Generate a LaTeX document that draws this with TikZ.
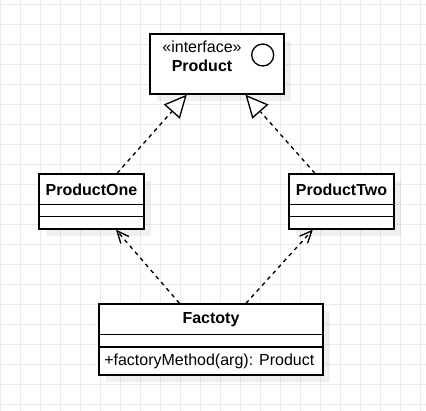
\documentclass[tikz,border=0pt]{standalone}
\usepackage{fontspec}
\setmainfont{Liberation Sans}
\usetikzlibrary{calc,arrows.meta,shadows,positioning}
\definecolor{gridgray}{HTML}{EBEBEB}
\tikzset{
  gridline/.style={draw=gridgray, line width=0.75pt},
  classbox/.style 2 args={draw=black, line width=1pt, fill=white, inner sep=0pt,
    minimum width=#1*0.75pt, minimum height=#2*0.75pt,
    drop shadow={shadow xshift=5.25pt, shadow yshift=-5.25pt, fill=black, opacity=0.06}},
  classname/.style={font=\fontsize{12}{14}\selectfont\bfseries, inner sep=0pt},
  classtext/.style={font=\fontsize{12}{14}\selectfont, inner sep=0pt},
  divider/.style={draw=black, line width=1pt},
  realize/.style={draw=black, line width=1pt, dash pattern=on 3pt off 3pt,
    -{Triangle[fill=white, length=17pt, width=16pt]}},
  depend/.style={draw=black, line width=1pt, dash pattern=on 3pt off 3pt,
    -{Straight Barb[length=9pt, width=8pt]}},
}
\begin{document}
\begin{tikzpicture}[x=0.75pt, y=-0.75pt]
		\useasboundingbox (0,0) rectangle (426,411);
		\fill[white] (0,0) rectangle (426,411);
		%%%%% GRID %%%%%
		\foreach \gx in {0,...,21}
			\draw[gridline] (0.5+20*\gx, 0) -- (0.5+20*\gx, 411);
		\foreach \gy in {0,...,20}
			\draw[gridline] (0, 4.3+20*\gy) -- (426, 4.3+20*\gy);
		
		%%%%% CLASSES %%%%%
		\node[classbox={134}{60}] (prod) at (217, 64) {};
		\node[classtext] (prodstereo) at (202, 46.7) {«interface»};
		\node[classname] (prodname) at (202, 65.7) {Product};
		\draw[line width=1pt] (262.7, 55) circle (8.25pt);
		
		\node[classbox={105}{55}] (prodone) at (91.5, 201.5) {};
		\node[classname] (prodonename) at (91.5, 189.5) {ProductOne};
		\draw[divider] ($(prodone.north west)+(0,31)$) -- ($(prodone.north east)+(0,31)$);
		\draw[divider] ($(prodone.north west)+(0,43)$) -- ($(prodone.north east)+(0,43)$);
		
		\node[classbox={105}{55}] (prodtwo) at (341.5, 201.5) {};
		\node[classname] (prodtwoname) at (341.5, 189.5) {ProductTwo};
		\draw[divider] ($(prodtwo.north west)+(0,31)$) -- ($(prodtwo.north east)+(0,31)$);
		\draw[divider] ($(prodtwo.north west)+(0,43)$) -- ($(prodtwo.north east)+(0,43)$);
		
		\node[classbox={224}{71}] (factory) at (211, 339.5) {};
		\node[classname] (factoryname) at (211, 319.5) {Factoty};
		\draw[divider] ($(factory.north west)+(0,31)$) -- ($(factory.north east)+(0,31)$);
		\draw[divider] ($(factory.north west)+(0,43.5)$) -- ($(factory.north east)+(0,43.5)$);
		\node[classtext, anchor=west] (factorymethod) at (104, 361) {+factoryMethod(arg): Product};
		
		%%%%% CONNECTORS %%%%%
		\draw[realize] ($(prodone.north west)!0.74!(prodone.north east)$) -- ($(prod.south west)!0.277!(prod.south east)$);
		\draw[realize] ($(prodtwo.north west)!0.25!(prodtwo.north east)$) -- ($(prod.south west)!0.71!(prod.south east)$);
		\draw[depend] ($(factory.north west)!0.36!(factory.north east)$) -- ($(prodone.south west)!0.73!(prodone.south east)$);
		\draw[depend] ($(factory.north west)!0.655!(factory.north east)$) -- ($(prodtwo.south west)!0.23!(prodtwo.south east)$);
	\end{tikzpicture}
\end{document}
